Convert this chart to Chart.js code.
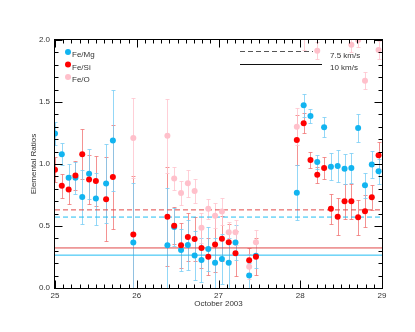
<!DOCTYPE html>
<html><head><meta charset="utf-8">
<script src="https://cdn.jsdelivr.net/npm/chart.js@4.4.1/dist/chart.umd.min.js"></script>
<style>html,body{margin:0;padding:0;background:#fff}#wrap{width:415px;height:332px}</style>
</head><body><div id="wrap"><canvas id="c" width="415" height="332"></canvas></div>
<script>
// Time (days of October 2003)
const times = [25.0, 25.083, 25.167, 25.25, 25.333, 25.417, 25.5, 25.625, 25.708, 25.958,
  26.375, 26.458, 26.542, 26.625, 26.708, 26.792, 26.875, 26.958, 27.042, 27.125, 27.208,
  27.375, 27.458, 27.958, 28.042, 28.125, 28.208, 28.292, 28.375, 28.458, 28.542, 28.625,
  28.708, 28.792, 28.875, 28.958];
const feMg = [1.245, 1.079, 0.889, 0.889, 0.734, 0.921, 0.721, 0.842, 1.19, 0.366, 0.344, 0.492,
  0.306, 0.347, 0.263, 0.226, 0.315, 0.204, 0.234, 0.204, 0.366, 0.10, 0.26, 0.769, 1.473, 1.387,
  1.016, 1.296, 0.978, 0.984, 0.962, 0.968, 1.29, 0.828, 0.995, 0.941];
const feMgErr = [0.09, 0.088, 0.11, 0.13, 0.22, 0.2, 0.21, 0.32, 0.41, 0.48, 0.46, 0.15, 0.17,
  0.2, 0.2, 0.18, 0.18, 0.2, 0.2, 0.2, 0.14, 0.1, 0.1, 0.22, 0.09, 0.055, 0.06, 0.08, 0.11, 0.13,
  0.12, 0.12, 0.11, 0.1, 0.11, 0.1];
const feSi = [0.953, 0.824, 0.795, 0.908, 1.079, 0.874, 0.863, 0.716, 0.895, 0.432, 0.575, 0.503,
  0.344, 0.411, 0.395, 0.323, 0.253, 0.35, 0.398, 0.368, 0.28, 0.223, 0.253, 1.194, 1.328, 1.032,
  0.914, 0.968, 0.64, 0.575, 0.70, 0.70, 0.57, 0.618, 0.731, 1.07];
const feSiErr = [0.1, 0.095, 0.12, 0.12, 0.2, 0.2, 0.2, 0.34, 0.42, 0.47, 0.4, 0.15, 0.18, 0.19,
  0.18, 0.16, 0.15, 0.22, 0.18, 0.15, 0.18, 0.1, 0.15, 0.2, 0.08, 0.065, 0.065, 0.09, 0.12, 0.15,
  0.14, 0.14, 0.14, 0.13, 0.1, 0.11];
const feO = [null, null, null, null, null, null, null, null, null, 1.21, 1.228, 0.884, 0.766, 0.844,
  0.782, 0.486, 0.64, 0.583, 0.616, 0.449, 0.449, 0.172, 0.368, 1.30, 2.12, null, 1.914, null, null,
  null, null, 1.962, 2.0, 1.672, null, 1.92];
const feOErr = [null, null, null, null, null, null, null, null, null, 0.32, 0.3, 0.09, 0.1, 0.11,
  0.1, 0.12, 0.08, 0.1, 0.11, 0.08, 0.1, 0.1, 0.1, 0.15, 0.2, null, 0.07, null, null, null, null,
  0.06, 0.06, 0.07, null, 0.07];
// Reference (photospheric) levels: dashed = 7.5 km/s, solid = 10 km/s
const refFeSi75 = 0.63, refFeMg75 = 0.572, refFeSi10 = 0.323, refFeMg10 = 0.265;
const seriesNames = ['Fe/Mg', 'Fe/Si', 'Fe/O'];
const speedNames = ['7.5 km/s', '10 km/s'];
const xTickLabels = ['25', '26', '27', '28', '29'];
const yTickLabels = ['0.0', '0.5', '1.0', '1.5', '2.0'];
const xTitle = 'October 2003', yTitle = 'Elemental Ratios';

const CYAN = '#11B4F0', RED = '#FF0000', PINK = '#FFC0CB';
const FONT = 'Liberation Sans, Arial, Helvetica, sans-serif';

function pts(vals, errs) {
  const out = [];
  times.forEach((t, i) => { if (vals[i] !== null) out.push({x: t, y: vals[i], e: errs[i]}); });
  return out;
}
function refLine(v) { return [{x: 25, y: v}, {x: 29, y: v}]; }

const errorBars = {
  id: 'errorBars',
  beforeDatasetsDraw(chart) {
    const {ctx, chartArea: a, scales: {x, y}} = chart;
    ctx.save();
    ctx.beginPath(); ctx.rect(a.left, a.top, a.right - a.left, a.bottom - a.top); ctx.clip();
    chart.data.datasets.forEach(ds => {
      if (!ds.errorColor) return;
      ctx.strokeStyle = ds.errorColor; ctx.lineWidth = 1;
      ds.data.forEach(p => {
        if (p.e == null) return;
        const px = Math.round(x.getPixelForValue(p.x)) + 0.5;
        const y1 = Math.round(y.getPixelForValue(p.y + p.e)) + 0.5;
        const y2 = Math.round(y.getPixelForValue(p.y - p.e)) + 0.5;
        ctx.beginPath();
        ctx.moveTo(px, y1); ctx.lineTo(px, y2);
        ctx.moveTo(px - 2, y1); ctx.lineTo(px + 2, y1);
        ctx.moveTo(px - 2, y2); ctx.lineTo(px + 2, y2);
        ctx.stroke();
      });
    });
    ctx.restore();
  }
};

const frame = {
  id: 'frame',
  afterDraw(chart) {
    const {ctx, chartArea: a, scales: {x, y}} = chart;
    ctx.save();
    ctx.strokeStyle = '#000'; ctx.lineWidth = 1;
    const L = Math.round(a.left) - 0.5, R = Math.round(a.right) + 0.5;
    const T = Math.round(a.top) - 0.5, B = Math.round(a.bottom) + 0.5;
    ctx.strokeRect(L, T, R - L, B - T);
    ctx.beginPath();
    for (let k = 0; k <= 40; k++) {
      const px = Math.round(x.getPixelForValue(25 + k * 0.1)) + 0.5;
      const len = k % 10 === 0 ? 8 : 4;
      ctx.moveTo(px, B); ctx.lineTo(px, B - len);
      ctx.moveTo(px, T); ctx.lineTo(px, T + len);
    }
    for (let k = 0; k <= 20; k++) {
      const py = Math.round(y.getPixelForValue(k * 0.1)) + 0.5;
      const len = k % 5 === 0 ? 8 : 4;
      ctx.moveTo(L, py); ctx.lineTo(L + len, py);
      ctx.moveTo(R, py); ctx.lineTo(R - len, py);
    }
    ctx.stroke();
    // series legend (top-left)
    const cols = [CYAN, RED, PINK];
    ctx.font = '8px ' + FONT; ctx.textBaseline = 'middle'; ctx.textAlign = 'left';
    seriesNames.forEach((n, i) => {
      const cy = 52 + i * 12.5;
      ctx.fillStyle = cols[i];
      ctx.beginPath(); ctx.arc(68, cy, 3, 0, Math.PI * 2); ctx.fill();
      ctx.fillStyle = '#333';
      ctx.fillText(n, 72, cy + 3);
    });
    // speed legend (top-right)
    ctx.lineWidth = 1;
    ctx.strokeStyle = '#555'; ctx.setLineDash([5, 3]);
    ctx.beginPath(); ctx.moveTo(240, 51.5); ctx.lineTo(313, 51.5); ctx.stroke();
    ctx.setLineDash([]); ctx.strokeStyle = '#111';
    ctx.beginPath(); ctx.moveTo(240, 64.5); ctx.lineTo(322, 64.5); ctx.stroke();
    ctx.fillStyle = '#333';
    ctx.fillText(speedNames[0], 330, 55.5);
    ctx.fillText(speedNames[1], 330, 68);
    ctx.restore();
  }
};

new Chart(document.getElementById('c'), {
  type: 'scatter',
  data: {
    datasets: [
      {label: seriesNames[1], data: pts(feSi, feSiErr), backgroundColor: RED, borderWidth: 0,
        pointRadius: 3, errorColor: 'rgba(240,110,110,0.75)', order: 1, clip: 0},
      {label: seriesNames[0], data: pts(feMg, feMgErr), backgroundColor: CYAN, borderWidth: 0,
        pointRadius: 3, errorColor: 'rgba(120,205,245,0.8)', order: 2, clip: 0},
      {label: seriesNames[2], data: pts(feO, feOErr), backgroundColor: PINK, borderWidth: 0,
        pointRadius: 3, errorColor: 'rgba(255,195,205,0.8)', order: 3, clip: 0},
      {type: 'line', data: refLine(refFeSi75), borderColor: '#E04848', borderWidth: 1, borderDash: [5, 3], pointRadius: 0, order: 5},
      {type: 'line', data: refLine(refFeMg75), borderColor: '#22BDF2', borderWidth: 1, borderDash: [5, 3], pointRadius: 0, order: 5},
      {type: 'line', data: refLine(refFeSi10), borderColor: '#E04848', borderWidth: 1, pointRadius: 0, order: 5},
      {type: 'line', data: refLine(refFeMg10), borderColor: '#22BDF2', borderWidth: 1, pointRadius: 0, order: 5}
    ]
  },
  options: {
    responsive: false, animation: false, devicePixelRatio: 1,
    layout: {padding: {top: 40, right: 33, left: 0, bottom: 0}},
    plugins: {legend: {display: false}, tooltip: {enabled: false}},
    scales: {
      x: {
        type: 'linear', min: 25, max: 29,
        grid: {display: false, drawTicks: false}, border: {display: false},
        ticks: {stepSize: 1, padding: 3, color: '#333', font: {family: FONT, size: 8},
          maxRotation: 0, autoSkip: false,
          callback: (v, i) => xTickLabels[i]},
        title: {display: true, text: xTitle, color: '#333', font: {family: FONT, size: 8},
          padding: {top: 0, bottom: 23}},
        afterFit: s => { s.height = 44; }
      },
      y: {
        type: 'linear', min: 0, max: 2,
        grid: {display: false, drawTicks: false}, border: {display: false},
        ticks: {stepSize: 0.5, padding: 5, color: '#333', font: {family: FONT, size: 8},
          callback: (v, i) => yTickLabels[i]},
        title: {display: true, text: yTitle, color: '#333', font: {family: FONT, size: 8},
          padding: {top: 29, bottom: 0}},
        afterFit: s => { s.width = 55; }
      }
    }
  },
  plugins: [errorBars, frame]
});
</script></body></html>
